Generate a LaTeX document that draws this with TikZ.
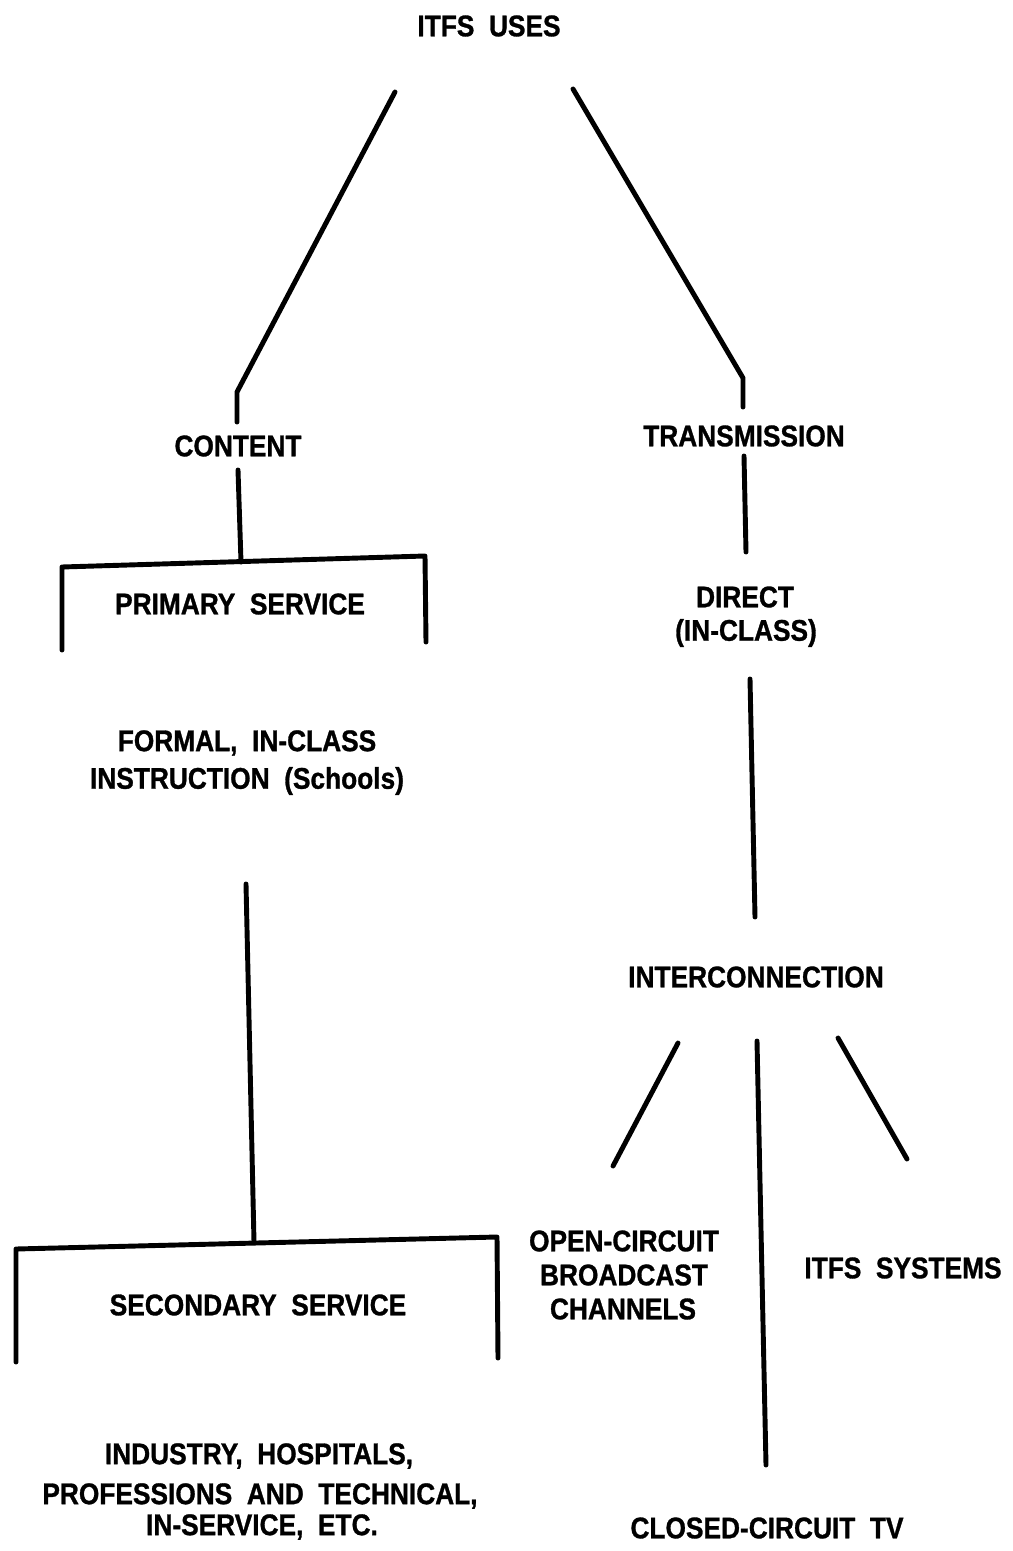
\documentclass[tikz,border=0pt]{standalone}
\usepackage{fontspec}
\setmainfont{Liberation Sans}
\newfontfamily\lblfont[FakeStretch=0.88,FakeBold=1]{Liberation Sans Bold}
\begin{document}
\begin{tikzpicture}[x=0.02cm,y=-0.02cm,
  lbl/.style={font=\lblfont\fontsize{17pt}{21pt}\selectfont, inner sep=0pt, align=center},
  ln/.style={line width=2.8pt, line cap=round, line join=round}]
\useasboundingbox (0,0) rectangle (1012,1551);
% text nodes
\node[lbl] (itfs) at (489,26) {ITFS\ \ USES};
\node[lbl] (content) at (238,446) {CONTENT};
\node[lbl] (transm) at (744,436) {TRANSMISSION};
\node[lbl] (primary) at (240,604) {PRIMARY\ \ SERVICE};
\node[lbl] (direct) at (745,597) {DIRECT};
\node[lbl] (inclass) at (746,633) {(IN-CLASS)};
\node[lbl] (formal) at (247,743) {FORMAL,\ \ IN-CLASS};
\node[lbl] (instr) at (247,781) {INSTRUCTION\ \ (Schools)};
\node[lbl] (interc) at (756,977) {INTERCONNECTION};
\node[lbl] (open) at (624,1241) {OPEN-CIRCUIT};
\node[lbl] (broad) at (624,1275) {BROADCAST};
\node[lbl] (chan) at (623,1309) {CHANNELS};
\node[lbl] (itfssys) at (903,1268) {ITFS\ \ SYSTEMS};
\node[lbl] (second) at (258,1305) {SECONDARY\ \ SERVICE};
\node[lbl] (industry) at (259,1456) {INDUSTRY,\ \ HOSPITALS,};
\node[lbl] (prof) at (260,1496) {PROFESSIONS\ \ AND\ \ TECHNICAL,};
\node[lbl] (inserv) at (262,1527) {IN-SERVICE,\ \ ETC.};
\node[lbl] (closed) at (767,1528) {CLOSED-CIRCUIT\ \ TV};
% line end coordinates
\coordinate (a1) at (395,92);  \coordinate (a2) at (237,392); \coordinate (a3) at (237,422);
\coordinate (b1) at (573,89);  \coordinate (b2) at (743,378); \coordinate (b3) at (743,407);
\coordinate (c1) at (238,470); \coordinate (c2) at (241,562);
\coordinate (p1) at (62,650);  \coordinate (p2) at (62,567);  \coordinate (p3) at (425,556); \coordinate (p4) at (426,642);
\coordinate (t1) at (744,456); \coordinate (t2) at (746,552);
\coordinate (d1) at (750,679); \coordinate (d2) at (755,917);
\coordinate (m1) at (246,884); \coordinate (m2) at (254,1242);
\coordinate (s1) at (16,1362); \coordinate (s2) at (16,1249); \coordinate (s3) at (497,1237); \coordinate (s4) at (498,1358);
\coordinate (i1) at (678,1043); \coordinate (i2) at (613,1166);
\coordinate (j1) at (757,1041); \coordinate (j2) at (766,1465);
\coordinate (k1) at (838,1038); \coordinate (k2) at (907,1159);
% connectors
\draw[ln] (a1) -- (a2) -- (a3);
\draw[ln] (b1) -- (b2) -- (b3);
\draw[ln] (c1) -- (c2);
\draw[ln] (p1) -- (p2) -- (p3) -- (p4);
\draw[ln] (t1) -- (t2);
\draw[ln] (d1) -- (d2);
\draw[ln] (m1) -- (m2);
\draw[ln] (s1) -- (s2) -- (s3) -- (s4);
\draw[ln] (i1) -- (i2);
\draw[ln] (j1) -- (j2);
\draw[ln] (k1) -- (k2);
\end{tikzpicture}
\end{document}
